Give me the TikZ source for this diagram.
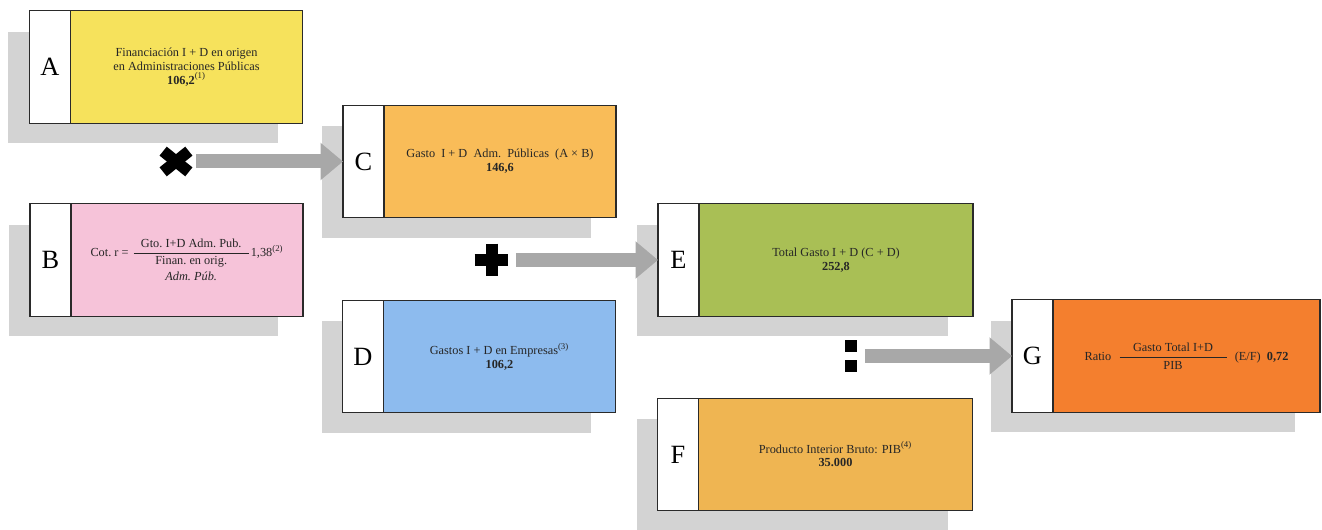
\documentclass[tikz,border=0pt]{standalone}
\usepackage{amsmath}
\usepackage{fontspec}
\setmainfont{Liberation Serif}
\usepackage{tikz}
\usetikzlibrary{arrows.meta,positioning,backgrounds}
\definecolor{boxyellow}{HTML}{F6E25C}
\definecolor{boxpink}{HTML}{F6C3D9}
\definecolor{boxamber}{HTML}{F9BC58}
\definecolor{boxblue}{HTML}{8DBBEE}
\definecolor{boxgreen}{HTML}{A9BF55}
\definecolor{boxochre}{HTML}{EFB552}
\definecolor{boxorange}{HTML}{F47F2E}
\definecolor{bk90}{HTML}{2A2A2A}
\definecolor{shadowgray}{HTML}{D3D3D3}
\definecolor{arrowgray}{HTML}{A8A8A8}
\tikzset{
  letterbox/.style={
    rectangle, draw=bk90, fill=white, line width=0.8pt, outer sep=0pt,
    minimum width=0.82cm, minimum height=2.25cm, inner sep=0pt,
    font=\fontsize{15}{15}\selectfont
  },
  valuebox/.style={
    rectangle, draw=bk90, fill=#1, line width=0.8pt, outer sep=0pt,
    minimum width=4.64cm, minimum height=2.25cm,
    align=center, inner sep=3pt, text=black!85,
    font=\fontsize{7}{7.8}\selectfont
  },
  valuebox/.default=boxyellow,
  opmark/.style={rectangle, inner sep=0pt},
  opstroke/.style={line width=0.23cm, line cap=butt, draw=black},
  oparrow/.style={
    -{Triangle[length=0.45cm, width=0.72cm]}, line width=0.28cm,
    draw=arrowgray, shorten <=0.15cm
  },
  boxshadow/.style={fill=shadowgray},
}

\begin{document}
\begin{tikzpicture}[node distance=0pt]
    \useasboundingbox (0,0) rectangle (26.44,-10.6);
    % boxes
    \node[valuebox=boxyellow] (A) at (3.73,-1.34) {Financiación I + D en origen\\en Administraciones Públicas\\\textbf{106,2}\textsuperscript{(1)}};
    \node[letterbox, left=of A] (lA) {A};
    \node[valuebox=boxpink] (B) at (3.74,-5.20) {Cot.~r = $\dfrac{\makebox[2.3cm]{Gto.\ I+D Adm.\ Pub.}}{\shortstack{Finan.\ en orig.\\\textit{Adm.\ Púb.}}}$1,38\textsuperscript{(2)}};
    \node[letterbox, left=of B] (lB) {B};
    \node[valuebox=boxamber] (C) at (10.00,-3.23) {Gasto~~I + D~~Adm.~~Públicas~~(A × B)\\\textbf{146,6}};
    \node[letterbox, left=of C] (lC) {C};
    \node[valuebox=boxblue] (D) at (9.99,-7.13) {Gastos I + D en Empresas\textsuperscript{(3)}\\\textbf{106,2}};
    \node[letterbox, left=of D] (lD) {D};
    \node[valuebox=boxgreen, minimum width=5.48cm] (E) at (16.72,-5.20) {Total Gasto I + D (C + D)\\\textbf{252,8}};
    \node[letterbox, left=of E] (lE) {E};
    \node[valuebox=boxochre, minimum width=5.48cm] (F) at (16.71,-9.09) {Producto Interior Bruto: PIB\textsuperscript{(4)}\\\textbf{35.000}};
    \node[letterbox, left=of F] (lF) {F};
    \node[valuebox=boxorange, minimum width=5.34cm] (G) at (23.73,-7.12) {Ratio~~$\dfrac{\makebox[2.14cm]{Gasto Total I+D}}{\text{PIB}}$~~(E/F)~~\textbf{0,72}};
    \node[letterbox, left=of G] (lG) {G};
    \begin{scope}[on background layer]
      \foreach \b in {A,B,C,D,E,F,G}
        \fill[boxshadow] ([shift={(-0.42,-0.42)}]l\b.north west) rectangle ([shift={(-0.5,-0.4)}]\b.south east);
    \end{scope}
    % operators
    \node[opmark, minimum width=0.5cm, minimum height=0.4cm] (times) at (3.52,-3.23) {};
    \draw[opstroke] (times.north west) -- (times.south east);
    \draw[opstroke] (times.south west) -- (times.north east);
    \node[opmark, minimum width=0.66cm, minimum height=0.64cm] (plus) at (9.83,-5.20) {};
    \draw[opstroke, line width=0.24cm] (plus.north) -- (plus.south);
    \draw[opstroke, line width=0.24cm] (plus.west) -- (plus.east);
    \node[opmark, minimum width=0.24cm, minimum height=0.62cm] (colon) at (17.02,-7.12) {};
    \fill (colon.north west) rectangle ++(0.24,-0.24);
    \fill (colon.south west) rectangle ++(0.24,0.24);
    % arrows
    \draw[oparrow] (times) -- (lC);
    \draw[oparrow] (plus) -- (lE);
    \draw[oparrow] (colon) -- (lG);
\end{tikzpicture}
\end{document}
